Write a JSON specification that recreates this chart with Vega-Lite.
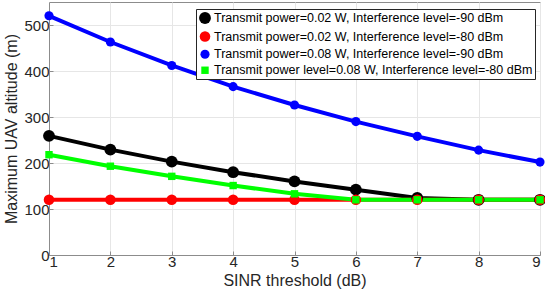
{
  "$schema": "https://vega.github.io/schema/vega-lite/v6.json",
  "width": 491,
  "height": 253,
  "autosize": {"type": "none"},
  "padding": {"left": 49, "top": 2, "right": 5, "bottom": 42},
  "background": "white",
  "config": {
    "font": "Liberation Sans",
    "view": {"stroke": "#8c8c8c", "strokeWidth": 1},
    "axis": {
      "labelFont": "Liberation Sans",
      "titleFont": "Liberation Sans",
      "labelFontSize": 15,
      "titleFontSize": 16,
      "titleFontWeight": "normal",
      "labelColor": "#262626",
      "titleColor": "#262626",
      "gridColor": "#e6e6e6",
      "gridWidth": 1,
      "domainColor": "#8c8c8c",
      "tickColor": "#8c8c8c",
      "tickSize": -4
    }
  },
  "resolve": {"legend": {"color": "independent", "stroke": "independent", "strokeWidth": "independent", "shape": "independent", "size": "independent"}},
  "data": {
    "values": [
      {"s": "Transmit power=0.02 W, Interference level=-90 dBm", "x": 1, "y": 259},
      {"s": "Transmit power=0.02 W, Interference level=-90 dBm", "x": 2, "y": 229},
      {"s": "Transmit power=0.02 W, Interference level=-90 dBm", "x": 3, "y": 203},
      {"s": "Transmit power=0.02 W, Interference level=-90 dBm", "x": 4, "y": 180},
      {"s": "Transmit power=0.02 W, Interference level=-90 dBm", "x": 5, "y": 160},
      {"s": "Transmit power=0.02 W, Interference level=-90 dBm", "x": 6, "y": 142},
      {"s": "Transmit power=0.02 W, Interference level=-90 dBm", "x": 7, "y": 124},
      {"s": "Transmit power=0.02 W, Interference level=-90 dBm", "x": 8, "y": 120},
      {"s": "Transmit power=0.02 W, Interference level=-90 dBm", "x": 9, "y": 120},
      {"s": "Transmit power=0.02 W, Interference level=-80 dBm", "x": 1, "y": 120},
      {"s": "Transmit power=0.02 W, Interference level=-80 dBm", "x": 2, "y": 120},
      {"s": "Transmit power=0.02 W, Interference level=-80 dBm", "x": 3, "y": 120},
      {"s": "Transmit power=0.02 W, Interference level=-80 dBm", "x": 4, "y": 120},
      {"s": "Transmit power=0.02 W, Interference level=-80 dBm", "x": 5, "y": 120},
      {"s": "Transmit power=0.02 W, Interference level=-80 dBm", "x": 6, "y": 120},
      {"s": "Transmit power=0.02 W, Interference level=-80 dBm", "x": 7, "y": 120},
      {"s": "Transmit power=0.02 W, Interference level=-80 dBm", "x": 8, "y": 120},
      {"s": "Transmit power=0.02 W, Interference level=-80 dBm", "x": 9, "y": 120},
      {"s": "Transmit power=0.08 W, Interference level=-90 dBm", "x": 1, "y": 520},
      {"s": "Transmit power=0.08 W, Interference level=-90 dBm", "x": 2, "y": 463},
      {"s": "Transmit power=0.08 W, Interference level=-90 dBm", "x": 3, "y": 412},
      {"s": "Transmit power=0.08 W, Interference level=-90 dBm", "x": 4, "y": 366},
      {"s": "Transmit power=0.08 W, Interference level=-90 dBm", "x": 5, "y": 326},
      {"s": "Transmit power=0.08 W, Interference level=-90 dBm", "x": 6, "y": 290},
      {"s": "Transmit power=0.08 W, Interference level=-90 dBm", "x": 7, "y": 258},
      {"s": "Transmit power=0.08 W, Interference level=-90 dBm", "x": 8, "y": 228},
      {"s": "Transmit power=0.08 W, Interference level=-90 dBm", "x": 9, "y": 202},
      {"s": "Transmit power level=0.08 W, Interference level=-80 dBm", "x": 1, "y": 218},
      {"s": "Transmit power level=0.08 W, Interference level=-80 dBm", "x": 2, "y": 193},
      {"s": "Transmit power level=0.08 W, Interference level=-80 dBm", "x": 3, "y": 171},
      {"s": "Transmit power level=0.08 W, Interference level=-80 dBm", "x": 4, "y": 151},
      {"s": "Transmit power level=0.08 W, Interference level=-80 dBm", "x": 5, "y": 133},
      {"s": "Transmit power level=0.08 W, Interference level=-80 dBm", "x": 6, "y": 120},
      {"s": "Transmit power level=0.08 W, Interference level=-80 dBm", "x": 7, "y": 120},
      {"s": "Transmit power level=0.08 W, Interference level=-80 dBm", "x": 8, "y": 120},
      {"s": "Transmit power level=0.08 W, Interference level=-80 dBm", "x": 9, "y": 120}
    ]
  },
  "encoding": {
    "x": {
      "field": "x", "type": "quantitative",
      "scale": {"domain": [1, 9], "nice": false, "zero": false},
      "axis": {"values": [1, 2, 3, 4, 5, 6, 7, 8, 9], "title": "SINR threshold (dB)", "labelPadding": 3, "titlePadding": 3}
    },
    "y": {
      "field": "y", "type": "quantitative",
      "scale": {"domain": [0, 550], "nice": false},
      "axis": {"values": [0, 100, 200, 300, 400, 500], "title": "Maximum UAV altitude (m)", "labelPadding": 4, "titlePadding": 4}
    }
  },
  "layer": [
    {
      "mark": {"type": "line", "strokeWidth": 4},
      "encoding": {
        "stroke": {
          "field": "s", "type": "nominal", "legend": null,
          "scale": {
            "domain": [
              "Transmit power=0.02 W, Interference level=-90 dBm",
              "Transmit power=0.02 W, Interference level=-80 dBm",
              "Transmit power=0.08 W, Interference level=-90 dBm",
              "Transmit power level=0.08 W, Interference level=-80 dBm"
            ],
            "range": ["#000000", "#ff0000", "#0000ff", "#00ff00"]
          }
        }
      }
    },
    {
      "mark": {"type": "point", "filled": true, "opacity": 1},
      "encoding": {
        "color": {
          "field": "s", "type": "nominal", "title": null,
          "scale": {
            "domain": [
              "Transmit power=0.02 W, Interference level=-90 dBm",
              "Transmit power=0.02 W, Interference level=-80 dBm",
              "Transmit power=0.08 W, Interference level=-90 dBm",
              "Transmit power level=0.08 W, Interference level=-80 dBm"
            ],
            "range": ["#000000", "#ff0000", "#0000ff", "#00ff00"]
          },
          "legend": {
            "orient": "none", "legendX": 147, "legendY": 7,
            "fillColor": "white", "strokeColor": "#262626",
            "padding": 2, "labelFontSize": 12.5, "labelFontWeight": "normal", "labelColor": "#000000",
            "labelFont": "Liberation Sans", "labelLimit": 400,
            "rowPadding": 1, "labelOffset": 2, "symbolOpacity": 1
          }
        },
        "shape": {
          "field": "s", "type": "nominal", "title": null,
          "scale": {
            "domain": [
              "Transmit power=0.02 W, Interference level=-90 dBm",
              "Transmit power=0.02 W, Interference level=-80 dBm",
              "Transmit power=0.08 W, Interference level=-90 dBm",
              "Transmit power level=0.08 W, Interference level=-80 dBm"
            ],
            "range": ["circle", "circle", "circle", "square"]
          }
        },
        "size": {
          "field": "s", "type": "nominal", "title": null,
          "scale": {
            "domain": [
              "Transmit power=0.02 W, Interference level=-90 dBm",
              "Transmit power=0.02 W, Interference level=-80 dBm",
              "Transmit power=0.08 W, Interference level=-90 dBm",
              "Transmit power level=0.08 W, Interference level=-80 dBm"
            ],
            "range": [140, 55, 55, 120]
          }
        }
      }
    }
  ]
}
